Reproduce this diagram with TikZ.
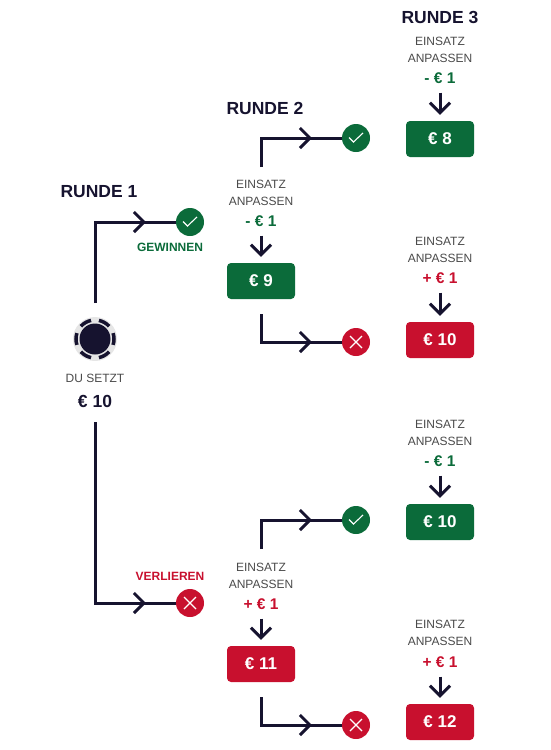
\documentclass[tikz,border=0pt]{standalone}
\usepackage{fontspec}
\setmainfont{Liberation Sans}
\usetikzlibrary{arrows.meta}

\definecolor{chipnavy}{HTML}{16132F}
\definecolor{wingreen}{HTML}{0B6B3A}
\definecolor{loosered}{HTML}{C8102E}
\definecolor{labelgray}{HTML}{4A4A4A}
\definecolor{chipring}{HTML}{E6E6E6}

\tikzset{
    flowline/.style={draw=chipnavy, line width=3pt},
    flowarrow/.style={flowline, -{Straight Barb[length=10pt, width=20pt, line width=3pt]}},
    stakebox/.style={rounded corners=4pt, minimum width=68pt, minimum height=36pt, inner sep=0pt, text=white, font=\fontsize{17pt}{19pt}\selectfont\bfseries},
    greenbox/.style={stakebox, fill=wingreen},
    redbox/.style={stakebox, fill=loosered},
    rundelabel/.style={inner sep=0pt, text=chipnavy, font=\fontsize{17.5pt}{20pt}\selectfont\bfseries},
    adjustlabel/.style={inner sep=0pt, align=center, text=labelgray, font=\fontsize{12pt}{17pt}\selectfont},
    greenamount/.style={inner sep=0pt, text=wingreen, font=\fontsize{15.5pt}{18pt}\selectfont\bfseries},
    redamount/.style={inner sep=0pt, text=loosered, font=\fontsize{15.5pt}{18pt}\selectfont\bfseries},
    checkmark/.style={circle, minimum size=28pt, inner sep=0pt, fill=wingreen, path picture={
        \draw[white, line width=1.1pt] ([shift={(-7pt,0.5pt)}]path picture bounding box.center) -- ++(4.5pt,-4.5pt) -- ++(9.5pt,9pt);}},
    crossmark/.style={circle, minimum size=28pt, inner sep=0pt, fill=loosered, path picture={
        \draw[white, line width=1.2pt] ([shift={(-6pt,-6pt)}]path picture bounding box.center) -- ++(12pt,12pt);
        \draw[white, line width=1.2pt] ([shift={(-6pt,6pt)}]path picture bounding box.center) -- ++(12pt,-12pt);}},
}

\begin{document}
\begin{tikzpicture}[x=1pt, y=-1pt]
    \useasboundingbox (0,0) rectangle (550,750);

    % round headings
    \node[rundelabel] (runde1) at (99,192) {RUNDE 1};
    \node[rundelabel] (runde2) at (265,108) {RUNDE 2};
    \node[rundelabel] (runde3) at (440,17) {RUNDE 3};

    % the chip
    \node[circle, fill=chipring, minimum size=44pt, inner sep=0pt] (chip) at (95,339) {};
    \node[circle, fill=chipnavy, minimum size=31pt, inner sep=0pt] (chipcore) at (chip.center) {};
    \foreach \a in {0,60,...,300}
        \draw[chipnavy, line width=3.5pt] (chip.center) ++(\a-18:19pt) arc[start angle=\a-18, end angle=\a+18, radius=19pt];
    \node[adjustlabel] (setzt) at (95,378) {DU SETZT};
    \node[inner sep=0pt, text=chipnavy, font=\fontsize{17.5pt}{20pt}\selectfont\bfseries] (stake) at (95,401) {€ 10};

    % outcome marks
    \node[checkmark] (win1) at (190,222) {};
    \node[crossmark] (lose1) at (190,603) {};
    \node[checkmark] (winA) at (356,138) {};
    \node[crossmark] (loseA) at (356,342) {};
    \node[checkmark] (winB) at (356,520) {};
    \node[crossmark] (loseB) at (356,725) {};
    \node[inner sep=0pt, text=wingreen, font=\fontsize{12pt}{14pt}\selectfont\bfseries] (gewinnen) at (170,247) {GEWINNEN};
    \node[inner sep=0pt, text=loosered, font=\fontsize{12pt}{14pt}\selectfont\bfseries] (verlieren) at (170,576) {VERLIEREN};

    % stake boxes
    \node[greenbox] (box8) at (440,139) {€ 8};
    \node[greenbox] (box9) at (261,281) {€ 9};
    \node[redbox] (box10a) at (440,340) {€ 10};
    \node[greenbox] (box10b) at (440,522) {€ 10};
    \node[redbox] (box11) at (261,664) {€ 11};
    \node[redbox] (box12) at (440,722) {€ 12};

    % adjustment labels
    \node[adjustlabel] (adj8) at (440,49.5) {EINSATZ\\ANPASSEN};
    \node[greenamount] (amt8) at (440,78) {- € 1};
    \node[adjustlabel] (adj9) at (261,192.5) {EINSATZ\\ANPASSEN};
    \node[greenamount] (amt9) at (261,221) {- € 1};
    \node[adjustlabel] (adj10a) at (440,249.5) {EINSATZ\\ANPASSEN};
    \node[redamount] (amt10a) at (440,278) {+ € 1};
    \node[adjustlabel] (adj10b) at (440,432.5) {EINSATZ\\ANPASSEN};
    \node[greenamount] (amt10b) at (440,461) {- € 1};
    \node[adjustlabel] (adj11) at (261,575.5) {EINSATZ\\ANPASSEN};
    \node[redamount] (amt11) at (261,604) {+ € 1};
    \node[adjustlabel] (adj12) at (440,632.5) {EINSATZ\\ANPASSEN};
    \node[redamount] (amt12) at (440,662) {+ € 1};

    % free ends and arrow points
    \coordinate (start1) at (95,303);
    \coordinate (start2) at (95,422);
    \coordinate (startA) at (261,167);
    \coordinate (startB) at (261,314);
    \coordinate (startC) at (261,549);
    \coordinate (startD) at (261,697);
    \coordinate (tip1) at (146,222);
    \coordinate (tip2) at (146,603);
    \coordinate (tipA) at (312,138);
    \coordinate (tipB) at (312,342);
    \coordinate (tipC) at (312,520);
    \coordinate (tipD) at (312,725);

    % branches
    \draw[flowarrow] (start1) |- (tip1);
    \draw[flowline] ([xshift=-7pt]tip1) -- (win1);
    \draw[flowarrow] (start2) |- (tip2);
    \draw[flowline] ([xshift=-7pt]tip2) -- (lose1);
    \draw[flowarrow] (startA) |- (tipA);
    \draw[flowline] ([xshift=-7pt]tipA) -- (winA);
    \draw[flowarrow] (startB) |- (tipB);
    \draw[flowline] ([xshift=-7pt]tipB) -- (loseA);
    \draw[flowarrow] (startC) |- (tipC);
    \draw[flowline] ([xshift=-7pt]tipC) -- (winB);
    \draw[flowarrow] (startD) |- (tipD);
    \draw[flowline] ([xshift=-7pt]tipD) -- (loseB);

    % short arrows down to the boxes
    \draw[flowarrow] (amt8.south) ++(0,9) -- ([yshift=6pt]box8.north);
    \draw[flowarrow] (amt9.south) ++(0,9) -- ([yshift=6pt]box9.north);
    \draw[flowarrow] (amt10a.south) ++(0,9) -- ([yshift=6pt]box10a.north);
    \draw[flowarrow] (amt10b.south) ++(0,9) -- ([yshift=6pt]box10b.north);
    \draw[flowarrow] (amt11.south) ++(0,9) -- ([yshift=6pt]box11.north);
    \draw[flowarrow] (amt12.south) ++(0,9) -- ([yshift=6pt]box12.north);
\end{tikzpicture}
\end{document}
